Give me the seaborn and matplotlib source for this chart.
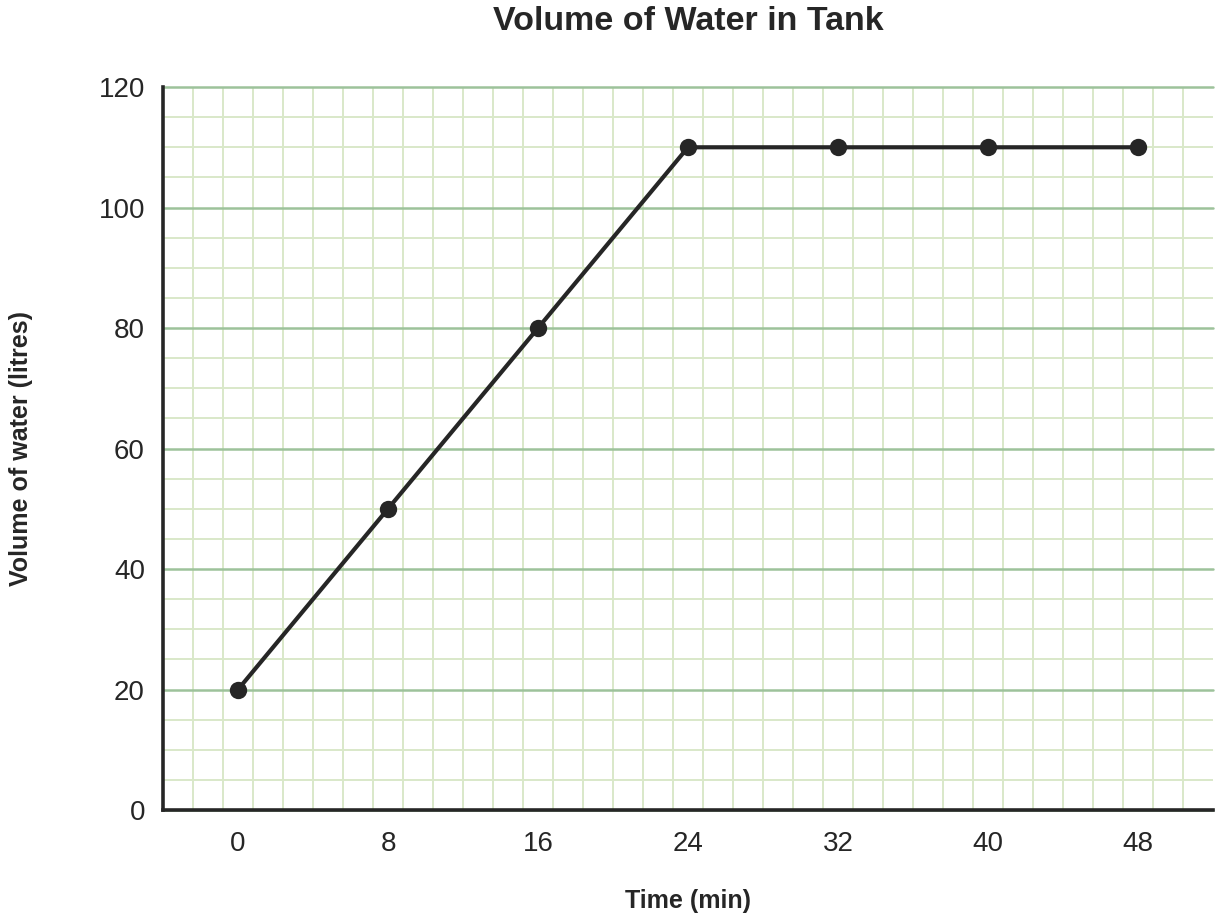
import numpy as np
import pandas as pd
import seaborn as sns
import matplotlib.pyplot as plt


# данные с графика
time_min = [0, 8, 16, 24, 32, 40, 48]
volume_litres = [20, 50, 80, 110, 110, 110, 110]
y_ticks = [0, 20, 40, 60, 80, 100, 120]

df = pd.DataFrame({'Time (min)': time_min, 'Volume': volume_litres})

sns.set_style('white')
plt.rcParams['font.family'] = ['Liberation Sans', 'DejaVu Sans']

fig = plt.figure(figsize=(12.2, 9.18), dpi=100)
ax = fig.add_axes([0.1336, 0.1176, 0.8607, 0.7876])

sns.lineplot(data=df, x='Time (min)', y='Volume', ax=ax, color='#262626',
             linewidth=3.0, marker='o', markersize=12.5, markeredgewidth=0,
             zorder=5, clip_on=False)

ax.set_xlim(-4, 52)
ax.set_ylim(0, 120)
ax.set_xticks(time_min)
ax.set_yticks(y_ticks)
ax.set_xticks(np.arange(-2.4, 52, 1.6), minor=True)
ax.set_yticks(np.arange(0, 121, 5), minor=True)

# сетка как на миллиметровке
ax.grid(which='minor', color='#d9e8c9', linewidth=1.4)
ax.yaxis.grid(which='major', color='#9dc29b', linewidth=1.8)
ax.xaxis.grid(False, which='major')
for gl in ax.yaxis.get_gridlines():
    gl.set_clip_on(False)
ax.set_axisbelow(True)

ax.tick_params(which='both', length=0)
ax.tick_params(axis='x', labelsize=20, pad=15, colors='#262626')
ax.tick_params(axis='y', labelsize=20, pad=13, colors='#262626')

for s in ['top', 'right']:
    ax.spines[s].set_visible(False)
for s in ['left', 'bottom']:
    ax.spines[s].set_color('#262626')
    ax.spines[s].set_linewidth(2.6)

ax.set_xlabel('Time (min)', fontsize=18, fontweight='bold', labelpad=23, color='#262626')
ax.set_ylabel('Volume of water (litres)', fontsize=18, fontweight='bold', labelpad=47, color='#262626')
ax.set_title('Volume of Water in Tank', fontsize=24.5, fontweight='bold', pad=41, color='#262626')

fig.savefig('out.png', dpi=100)
